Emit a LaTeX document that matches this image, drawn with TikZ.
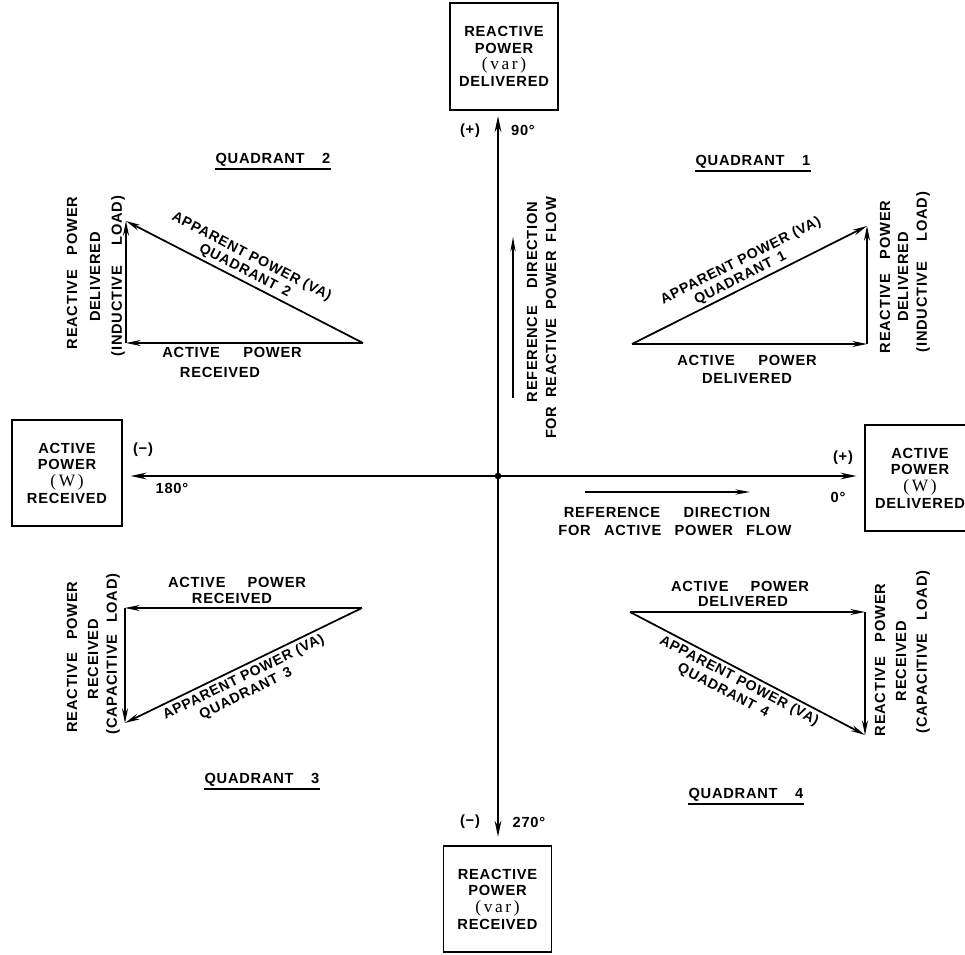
\documentclass[tikz,border=0pt]{standalone}
\usepackage{fontspec}
\setmainfont{Liberation Sans}[LetterSpace=5]
\newfontfamily\serifvar{Liberation Serif}[LetterSpace=15]
\usetikzlibrary{arrows.meta}
\newcommand{\unitvar}[1]{{\serifvar\mdseries\fontsize{13}{12.5}\selectfont#1}}
\begin{document}
\begin{tikzpicture}[x=0.75pt,y=-0.75pt,
  lab/.style={font=\bfseries\fontsize{11}{12.5}\selectfont, inner sep=0pt},
  hyp/.style={font=\bfseries\fontsize{10.6}{12}\selectfont, inner sep=0pt},
  box/.style={draw, line width=1.3pt, minimum width=81pt, minimum height=80pt, align=center,
              font=\bfseries\fontsize{11}{12.5}\selectfont},
  axis/.style={line width=1.5pt, -{Stealth[length=12pt,width=5pt]}},
  vec/.style={line width=1.3pt, -{Stealth[length=11pt,width=4.5pt]}},
  refarr/.style={line width=1.1pt, -{Stealth[length=11pt,width=4pt]}},
  uline/.style={line width=0.9pt},
  dot/.style={circle, fill=black, inner sep=0pt, minimum size=5pt}
]
\clip (0,0) rectangle (965,955);
\useasboundingbox (0,0) rectangle (965,955);

% boxes
\node[box] (top) at (504,56.5) {REACTIVE\\POWER\\\unitvar{(var)}\\DELIVERED};
\node[box] (bot) at (497.5,899) {REACTIVE\\POWER\\\unitvar{(var)}\\RECEIVED};
\node[box, minimum width=82pt] (lft) at (67,473) {ACTIVE\\POWER\\\unitvar{(W)}\\RECEIVED};
\node[box, minimum width=82pt] (rgt) at (920,478) {ACTIVE\\POWER\\\unitvar{(W)}\\DELIVERED};

% axes
\node[dot] (o) at (498,476) {};
\draw[axis, shorten >=4pt] (o.center) -- (o.center |- top.south);
\draw[axis, shorten >=6pt] (o.center) -- (o.center |- bot.north);
\draw[axis, shorten >=6pt] (o.center) -- (o.center -| lft.east);
\draw[axis, shorten >=6pt] (o.center) -- (o.center -| rgt.west);

% axis labels
\node[lab] (pt) at (470,131) {(+)};
\node[lab] (dt) at (523,130) {90°};
\node[lab] (ml) at (143,450) {(−)};
\node[lab] (dl) at (172,488) {180°};
\node[lab] (pr) at (843,458) {(+)};
\node[lab] (dr) at (838,497) {0°};
\node[lab] (mb) at (470,822) {(−)};
\node[lab] (db) at (529,822) {270°};

% reference directions
\coordinate (rv1) at (513,398);
\coordinate (rv2) at (513,237);
\draw[refarr] (rv1) -- (rv2);
\node[lab, rotate=90] (rvt1) at (532,302) {REFERENCE\hspace{1.2em}DIRECTION};
\node[lab, rotate=90] (rvt2) at (551,318) {FOR\hspace{0.6em}REACTIVE\hspace{0.6em}POWER\hspace{0.6em}FLOW};
\coordinate (rh1) at (585,492);
\coordinate (rh2) at (750,492);
\draw[refarr] (rh1) -- (rh2);
\node[lab] (rht1) at (667,512) {REFERENCE\hspace{1.6em}DIRECTION};
\node[lab] (rht2) at (675,530) {FOR\hspace{0.9em}ACTIVE\hspace{0.9em}POWER\hspace{0.9em}FLOW};

% quadrant titles
\node[lab] (q1t) at (753,162) {QUADRANT\hspace{1.2em}1};
\node[lab] (q2t) at (273,160) {QUADRANT\hspace{1.2em}2};
\node[lab] (q3t) at (262,780) {QUADRANT\hspace{1.2em}3};
\node[lab] (q4t) at (746,795) {QUADRANT\hspace{1.2em}4};
\foreach \q in {q1t,q2t,q3t,q4t}
  \draw[uline] ([yshift=-4pt]\q.base west) -- ([yshift=-4pt]\q.base east);

% Quadrant 1
\coordinate (q1a) at (632,344);
\coordinate (q1b) at (867,344);
\coordinate (q1c) at (867,226);
\draw[vec] (q1a) -- (q1b);
\draw[vec] (q1b) -- (q1c);
\draw[vec] (q1a) -- (q1c);
\node[hyp, rotate=26.7] (q1h1) at (741,261) {APPARENT POWER (VA)};
\node[hyp, rotate=26.7] (q1h2) at (740.5,278.5) {QUADRANT\hspace{0.5em}1};
\node[lab] (q1x1) at (747,360) {ACTIVE\hspace{1.6em}POWER};
\node[lab] (q1x2) at (747,378) {DELIVERED};
\node[lab, rotate=90] (q1y1) at (885,277) {REACTIVE\hspace{1em}POWER};
\node[lab, rotate=90] (q1y2) at (903,277) {DELIVERED};
\node[lab, rotate=90] (q1y3) at (923,272) {(INDUCTIVE\hspace{1.4em}LOAD)};

% Quadrant 2
\coordinate (q2a) at (363,343);
\coordinate (q2b) at (126,343);
\coordinate (q2c) at (126,221);
\draw[vec] (q2a) -- (q2b);
\draw[vec] (q2b) -- (q2c);
\draw[vec] (q2a) -- (q2c);
\node[hyp, rotate=-27.2] (q2h1) at (251.5,257) {APPARENT POWER (VA)};
\node[hyp, rotate=-27.2] (q2h2) at (244.7,271) {QUADRANT\hspace{0.5em}2};
\node[lab] (q2x1) at (232,352) {ACTIVE\hspace{1.6em}POWER};
\node[lab] (q2x2) at (220,372) {RECEIVED};
\node[lab, rotate=90] (q2y1) at (72,273) {REACTIVE\hspace{1em}POWER};
\node[lab, rotate=90] (q2y2) at (95,277) {DELIVERED};
\node[lab, rotate=90] (q2y3) at (118,276) {(INDUCTIVE\hspace{1.4em}LOAD)};

% Quadrant 3
\coordinate (q3a) at (362,608);
\coordinate (q3b) at (125,608);
\coordinate (q3c) at (125,723);
\draw[vec] (q3a) -- (q3b);
\draw[vec] (q3b) -- (q3c);
\draw[vec] (q3a) -- (q3c);
\node[hyp, rotate=25.9] (q3h1) at (243.8,677.5) {APPARENT POWER (VA)};
\node[hyp, rotate=25.9] (q3h2) at (246,694) {QUADRANT\hspace{0.5em}3};
\node[lab] (q3x1) at (237,582) {ACTIVE\hspace{1.5em}POWER};
\node[lab] (q3x2) at (232,598) {RECEIVED};
\node[lab, rotate=90] (q3y1) at (72,657) {REACTIVE\hspace{0.9em}POWER};
\node[lab, rotate=90] (q3y2) at (93,659) {RECEIVED};
\node[lab, rotate=90] (q3y3) at (113,654) {(CAPACITIVE\hspace{0.8em}LOAD)};

% Quadrant 4
\coordinate (q4a) at (630,612);
\coordinate (q4b) at (865,612);
\coordinate (q4c) at (865,735);
\draw[vec] (q4a) -- (q4b);
\draw[vec] (q4b) -- (q4c);
\draw[vec] (q4a) -- (q4c);
\node[hyp, rotate=-27.6] (q4h1) at (739,681) {APPARENT POWER (VA)};
\node[hyp, rotate=-27.6] (q4h2) at (723,691) {QUADRANT\hspace{0.5em}4};
\node[lab] (q4x1) at (740,586) {ACTIVE\hspace{1.5em}POWER};
\node[lab] (q4x2) at (743,601) {DELIVERED};
\node[lab, rotate=90] (q4y1) at (880,660) {REACTIVE\hspace{1em}POWER};
\node[lab, rotate=90] (q4y2) at (901,661) {RECEIVED};
\node[lab, rotate=90] (q4y3) at (923,652) {(CAPACITIVE\hspace{0.9em}LOAD)};
\end{tikzpicture}
\end{document}
